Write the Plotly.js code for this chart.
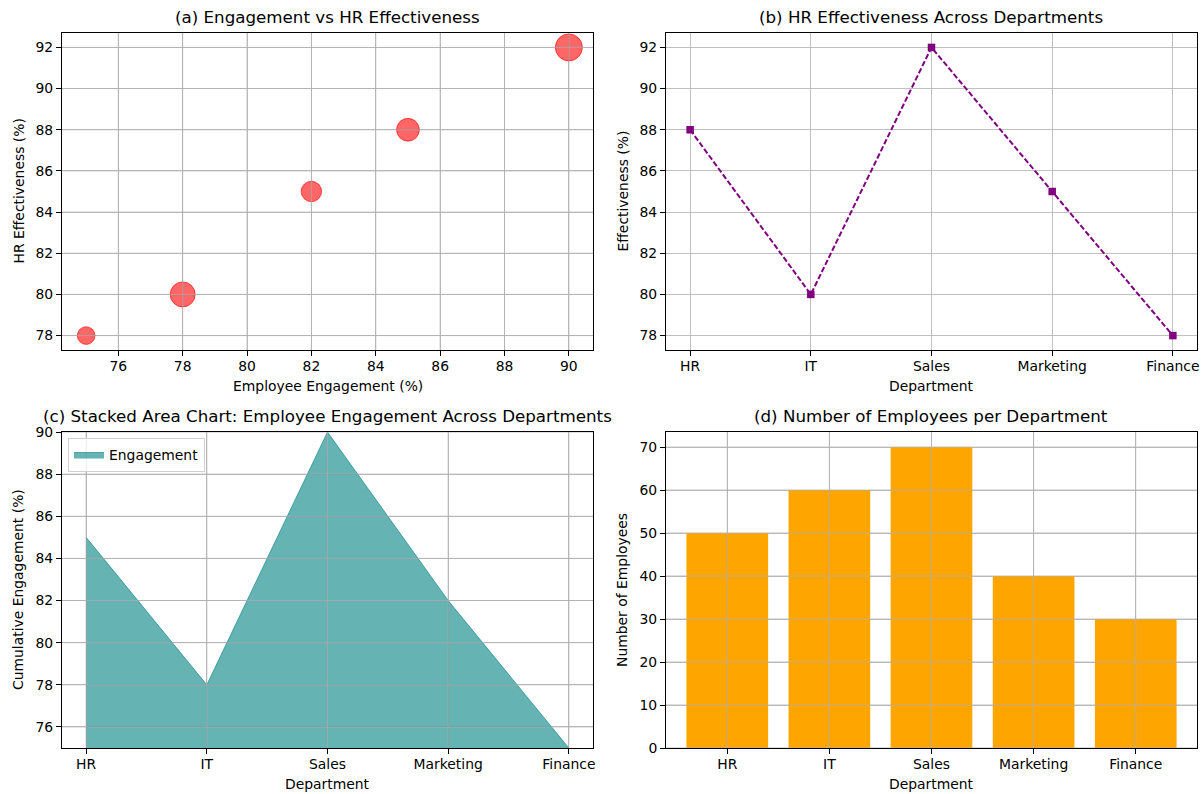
<!DOCTYPE html>
<html><head><meta charset="utf-8">
<script src="https://cdn.plot.ly/plotly-3.0.1.min.js"></script>
<style>html,body{margin:0;padding:0;background:#fff}</style>
</head><body><div id="chart" style="width:1204px;height:794px"></div>
<script>
// ---- data ----
const departments = ['HR', 'IT', 'Sales', 'Marketing', 'Finance'];
const engagement = [85, 78, 90, 82, 75];
const effectiveness = [88, 80, 92, 85, 78];
const employees = [50, 60, 70, 40, 30];

// tick values
const ticksAx = [76, 78, 80, 82, 84, 86, 88, 90];
const ticksAy = [78, 80, 82, 84, 86, 88, 90, 92];
const ticksCy = [76, 78, 80, 82, 84, 86, 88, 90];
const ticksDy = [0, 10, 20, 30, 40, 50, 60, 70];
const catIdx = departments.map((d, i) => i);

// ---- layout geometry ----
const W = 1204, H = 794;
const colL = [62 / W, 593 / W], colR = [666 / W, 1197 / W];
const rowT = [1 - 350 / H, 1 - 33 / H], rowB = [1 - 748 / H, 1 - 432 / H];

const FONT = 'DejaVu Sans, Verdana, sans-serif';
const TICK = 13.9, TITLE = 16.7;
const GRID = '#b0b0b0';

function ax(extra) {
  return Object.assign({
    showline: true, mirror: true, linecolor: '#000', linewidth: 1,
    ticks: 'outside', ticklen: 5, tickwidth: 1, tickcolor: '#000',
    showgrid: true, gridcolor: GRID, gridwidth: 0.8, zeroline: false,
    tickfont: { family: FONT, size: TICK, color: '#000' }, fixedrange: true
  }, extra);
}

const traces = [
  { // (a)
    type: 'scatter', mode: 'markers', x: engagement, y: effectiveness,
    xaxis: 'x', yaxis: 'y', showlegend: false, hoverinfo: 'skip',
    marker: { size: employees, sizemode: 'area', sizeref: 0.192, opacity: 1,
      color: 'rgba(255,0,0,0.6)', line: { color: 'rgba(255,0,0,0.6)', width: 1 } }
  },
  { // (b)
    type: 'scatter', mode: 'lines+markers', x: departments, y: effectiveness,
    xaxis: 'x2', yaxis: 'y2', showlegend: false, hoverinfo: 'skip',
    line: { color: '#800080', width: 2, dash: '5.5px,2.4px' },
    marker: { symbol: 'square', size: 7.5, color: '#800080' }
  },
  { // (c)
    type: 'scatter', mode: 'lines', x: departments, y: engagement, name: 'Engagement',
    xaxis: 'x3', yaxis: 'y3', fill: 'tozeroy', fillcolor: 'rgba(0,128,128,0.6)',
    line: { color: 'rgba(0,128,128,0.6)', width: 1 }, hoverinfo: 'skip'
  },
  { // (d)
    type: 'bar', x: departments, y: employees, xaxis: 'x4', yaxis: 'y4',
    showlegend: false, hoverinfo: 'skip', width: 0.8,
    marker: { color: '#FFA500', line: { width: 0 } }
  }
];

function gridAbove(xr, yr, xv, yv) {
  const s = [];
  xv.forEach(v => s.push({ type: 'line', layer: 'above', xref: xr, yref: yr + ' domain',
    x0: v, x1: v, y0: 0, y1: 1, line: { color: GRID, width: 0.8 } }));
  yv.forEach(v => s.push({ type: 'line', layer: 'above', xref: xr + ' domain', yref: yr,
    x0: 0, x1: 1, y0: v, y1: v, line: { color: GRID, width: 0.8 } }));
  return s;
}
const shapes = [].concat(
  gridAbove('x', 'y', ticksAx, ticksAy),
  gridAbove('x3', 'y3', catIdx, ticksCy),
  gridAbove('x4', 'y4', catIdx, ticksDy)
);

function title(txt, dom, ydom) {
  return { text: txt, xref: 'paper', yref: 'paper', x: (dom[0] + dom[1]) / 2, y: ydom[1],
    xanchor: 'center', yanchor: 'bottom', yshift: 4, showarrow: false,
    font: { family: FONT, size: TITLE, color: '#000' } };
}
function xlab(txt, dom, ydom) {
  return { text: txt, xref: 'paper', yref: 'paper', x: (dom[0] + dom[1]) / 2, y: ydom[0],
    xanchor: 'center', yanchor: 'middle', yshift: -36, showarrow: false,
    font: { family: FONT, size: TICK, color: '#000' } };
}
function ylab(txt, dom, ydom) {
  return { text: txt, xref: 'paper', yref: 'paper', x: dom[0], y: (ydom[0] + ydom[1]) / 2,
    xanchor: 'center', yanchor: 'middle', xshift: -44, textangle: -90, showarrow: false,
    font: { family: FONT, size: TICK, color: '#000' } };
}

const layout = {
  width: W, height: H, margin: { l: 0, r: 0, t: 0, b: 0 },
  paper_bgcolor: '#fff', plot_bgcolor: '#fff',
  font: { family: FONT, size: TICK, color: '#000' },
  xaxis: ax({ domain: colL, anchor: 'y', range: [74.25, 90.75], tickvals: ticksAx, ticklabelstandoff: -2 }),
  yaxis: ax({ domain: rowT, anchor: 'x', range: [77.3, 92.7], tickvals: ticksAy }),
  xaxis2: ax({ domain: colR, anchor: 'y2', type: 'category', range: [-0.2, 4.2], ticklabelstandoff: -2 }),
  yaxis2: ax({ domain: rowT, anchor: 'x2', range: [77.3, 92.7], tickvals: ticksAy }),
  xaxis3: ax({ domain: colL, anchor: 'y3', type: 'category', range: [-0.2, 4.2], ticklabelstandoff: -2 }),
  yaxis3: ax({ domain: rowB, anchor: 'x3', range: [75, 90], tickvals: ticksCy }),
  xaxis4: ax({ domain: colR, anchor: 'y4', type: 'category', range: [-0.6, 4.6], ticklabelstandoff: -2 }),
  yaxis4: ax({ domain: rowB, anchor: 'x4', range: [0, 73.5], tickvals: ticksDy }),
  showlegend: true,
  legend: { x: 68 / W, y: 1 - 438 / H, xanchor: 'left', yanchor: 'top',
    bgcolor: 'rgba(255,255,255,0.8)', bordercolor: '#d0d0d0', borderwidth: 1,
    font: { family: FONT, size: TICK, color: '#000' }, itemwidth: 30 },
  shapes: shapes,
  annotations: [
    title('(a) Engagement vs HR Effectiveness', colL, rowT),
    title('(b) HR Effectiveness Across Departments', colR, rowT),
    title('(c) Stacked Area Chart: Employee Engagement Across Departments', colL, rowB),
    title('(d) Number of Employees per Department', colR, rowB),
    xlab('Employee Engagement (%)', colL, rowT),
    xlab('Department', colR, rowT),
    xlab('Department', colL, rowB),
    xlab('Department', colR, rowB),
    ylab('HR Effectiveness (%)', colL, rowT),
    ylab('Effectiveness (%)', colR, rowT),
    ylab('Cumulative Engagement (%)', colL, rowB),
    ylab('Number of Employees', colR, rowB)
  ]
};

Plotly.newPlot('chart', traces, layout, { staticPlot: true, displayModeBar: false });
</script></body></html>
